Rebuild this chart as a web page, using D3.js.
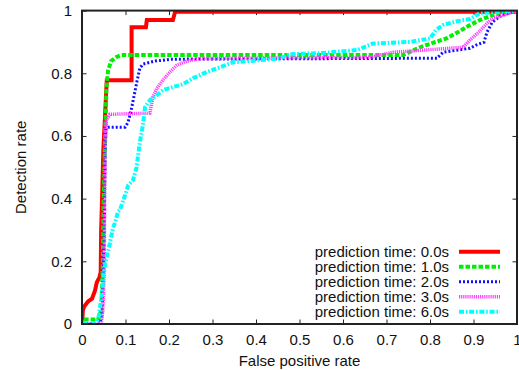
<!DOCTYPE html>
<html>
<head>
<meta charset="utf-8">
<script src="https://cdn.jsdelivr.net/npm/d3@7"></script>
<style>
  body { margin: 0; background: #fff; }
  svg { display: block; font-family: "Liberation Sans", Arial, sans-serif; }
</style>
</head>
<body>
<svg></svg>
<script>
const xTicks = [0, 0.1, 0.2, 0.3, 0.4, 0.5, 0.6, 0.7, 0.8, 0.9, 1]
const yTicks = [0, 0.2, 0.4, 0.6, 0.8, 1]

const seriesNames = ["prediction time: 0.0s", "prediction time: 1.0s", "prediction time: 2.0s", "prediction time: 3.0s", "prediction time: 6.0s"]

// [false positive rate, detection rate]
const roc0 = [[0, 0], [0.002, 0.043], [0.005, 0.056], [0.014, 0.072], [0.023, 0.081], [0.030, 0.107], [0.034, 0.133], [0.040, 0.149], [0.043, 0.165], [0.044, 0.299], [0.046, 0.395], [0.049, 0.554], [0.053, 0.666], [0.056, 0.752], [0.057, 0.778], [0.114, 0.778], [0.114, 0.947], [0.147, 0.947], [0.149, 0.970], [0.209, 0.970], [0.214, 0.996], [1, 0.996]]
const roc1 = [[0, 0], [0, 0.014], [0.037, 0.014], [0.044, 0.043], [0.046, 0.107], [0.048, 0.203], [0.049, 0.331], [0.051, 0.458], [0.053, 0.586], [0.055, 0.682], [0.056, 0.752], [0.060, 0.810], [0.067, 0.839], [0.078, 0.851], [0.090, 0.858], [0.738, 0.858], [0.777, 0.883], [0.811, 0.899], [0.839, 0.912], [0.869, 0.935], [0.892, 0.954], [0.915, 0.970], [0.945, 0.986], [0.984, 0.995], [1, 1]]
const roc2 = [[0, 0], [0.041, 0], [0.046, 0.027], [0.048, 0.107], [0.051, 0.267], [0.052, 0.427], [0.053, 0.554], [0.055, 0.625], [0.060, 0.628], [0.099, 0.628], [0.106, 0.644], [0.113, 0.682], [0.120, 0.730], [0.126, 0.772], [0.133, 0.816], [0.140, 0.829], [0.168, 0.839], [0.207, 0.845], [0.816, 0.848], [0.830, 0.867], [0.892, 0.880], [0.906, 0.890], [0.924, 0.899], [0.931, 0.931], [0.943, 0.963], [0.961, 0.982], [1, 1]]
const roc3 = [[0, 0], [0.044, 0], [0.048, 0.043], [0.051, 0.171], [0.052, 0.395], [0.053, 0.554], [0.056, 0.650], [0.064, 0.669], [0.156, 0.673], [0.163, 0.724], [0.172, 0.752], [0.186, 0.778], [0.202, 0.804], [0.218, 0.826], [0.241, 0.839], [0.271, 0.847], [0.662, 0.851], [0.715, 0.867], [0.816, 0.877], [0.876, 0.883], [0.892, 0.906], [0.915, 0.935], [0.931, 0.960], [0.945, 0.976], [0.977, 0.989], [1, 1]]
const roc6 = [[0, 0], [0.032, 0], [0.039, 0.027], [0.041, 0.050], [0.046, 0.097], [0.049, 0.155], [0.055, 0.203], [0.064, 0.257], [0.071, 0.305], [0.076, 0.324], [0.083, 0.359], [0.087, 0.363], [0.099, 0.411], [0.106, 0.442], [0.117, 0.458], [0.125, 0.497], [0.129, 0.538], [0.133, 0.580], [0.140, 0.634], [0.145, 0.692], [0.156, 0.714], [0.172, 0.730], [0.186, 0.746], [0.209, 0.756], [0.232, 0.765], [0.255, 0.784], [0.287, 0.804], [0.317, 0.819], [0.347, 0.835], [0.455, 0.847], [0.478, 0.861], [0.547, 0.864], [0.632, 0.874], [0.669, 0.895], [0.754, 0.900], [0.800, 0.911], [0.814, 0.938], [0.830, 0.954], [0.862, 0.966], [0.892, 0.973], [0.915, 0.992], [1, 1]]

const width = 519, height = 370
const plot = { left: 82, right: 517, top: 10.6, bottom: 324 }

const styles = [
    { color: "#ff0000", width: 4, dash: null },
    { color: "#00ee00", width: 4, dash: "4.5,2" },
    { color: "#1010ff", width: 3, dash: "2,2" },
    { color: "#ff40ff", width: 3.5, dash: "1.2,0.9" },
    { color: "#00ffff", width: 4, dash: "5,1.8,1.6,1.8" }
]
const series = [roc0, roc1, roc2, roc3, roc6]

const svg = d3.select('svg')
    .attr("width", width)
    .attr("height", height)

const x = d3.scaleLinear().domain([0, 1]).range([plot.left, plot.right])
const y = d3.scaleLinear().domain([0, 1]).range([plot.bottom, plot.top])

svg.append("defs").append("clipPath")
    .attr("id", "clip")
    .append("rect")
    .attr("x", plot.left).attr("y", plot.top)
    .attr("width", plot.right - plot.left)
    .attr("height", plot.bottom - plot.top)

const tick = 4.5

function styleAxis(g) {
    g.select(".domain").remove()
    g.selectAll(".tick line").attr("stroke", "#222").attr("stroke-width", 1)
    g.selectAll(".tick text").attr("fill", "#111").attr("font-size", 15)
}

svg.append("g")
    .attr("transform", `translate(0,${plot.bottom})`)
    .call(d3.axisBottom(x).tickValues(xTicks).tickFormat(d => String(d)).tickSizeInner(-tick).tickSizeOuter(0).tickPadding(10))
    .call(styleAxis)
    .attr("font-family", null)

svg.append("g")
    .attr("transform", `translate(0,${plot.top})`)
    .call(d3.axisTop(x).tickValues(xTicks).tickFormat("").tickSizeInner(-tick).tickSizeOuter(0))
    .call(styleAxis)

svg.append("g")
    .attr("transform", `translate(${plot.left},0)`)
    .call(d3.axisLeft(y).tickValues(yTicks).tickFormat(d => String(d)).tickSizeInner(-tick).tickSizeOuter(0).tickPadding(10))
    .call(styleAxis)
    .attr("font-family", null)

svg.append("g")
    .attr("transform", `translate(${plot.right},0)`)
    .call(d3.axisRight(y).tickValues(yTicks).tickFormat("").tickSizeInner(-tick).tickSizeOuter(0))
    .call(styleAxis)

const line = d3.line()
    .x(d => x(d[0]))
    .y(d => y(d[1]))

svg.append("g")
    .attr("clip-path", "url(#clip)")
    .selectAll("path")
    .data(series)
    .enter()
    .append("path")
    .attr("d", line)
    .attr("fill", "none")
    .attr("stroke", (_, i) => styles[i].color)
    .attr("stroke-width", (_, i) => styles[i].width)
    .attr("stroke-dasharray", (_, i) => styles[i].dash)
    .attr("stroke-linejoin", "miter")

svg.append("rect")
    .attr("x", plot.left).attr("y", plot.top)
    .attr("width", plot.right - plot.left)
    .attr("height", plot.bottom - plot.top)
    .attr("fill", "none")
    .attr("stroke", "#222")
    .attr("stroke-width", 2)

const legend = svg.append("g")
    .selectAll("g")
    .data(seriesNames)
    .enter()
    .append("g")
    .attr("transform", (_, i) => `translate(0,${251.7 + i * 15})`)

legend.append("text")
    .attr("x", 449)
    .attr("dy", "0.36em")
    .attr("text-anchor", "end")
    .attr("font-size", 15)
    .attr("fill", "#111")
    .text(d => d)

legend.append("line")
    .attr("x1", 459).attr("x2", 500)
    .attr("stroke", (_, i) => styles[i].color)
    .attr("stroke-width", (_, i) => styles[i].width)
    .attr("stroke-dasharray", (_, i) => styles[i].dash)

svg.append("text")
    .attr("x", (plot.left + plot.right) / 2)
    .attr("y", 361)
    .attr("dy", "0.36em")
    .attr("text-anchor", "middle")
    .attr("font-size", 15)
    .attr("fill", "#111")
    .text("False positive rate")

svg.append("text")
    .attr("transform", `translate(21,${(plot.top + plot.bottom) / 2}) rotate(-90)`)
    .attr("dy", "0.36em")
    .attr("text-anchor", "middle")
    .attr("font-size", 15)
    .attr("fill", "#111")
    .text("Detection rate")
</script>
</body>
</html>
